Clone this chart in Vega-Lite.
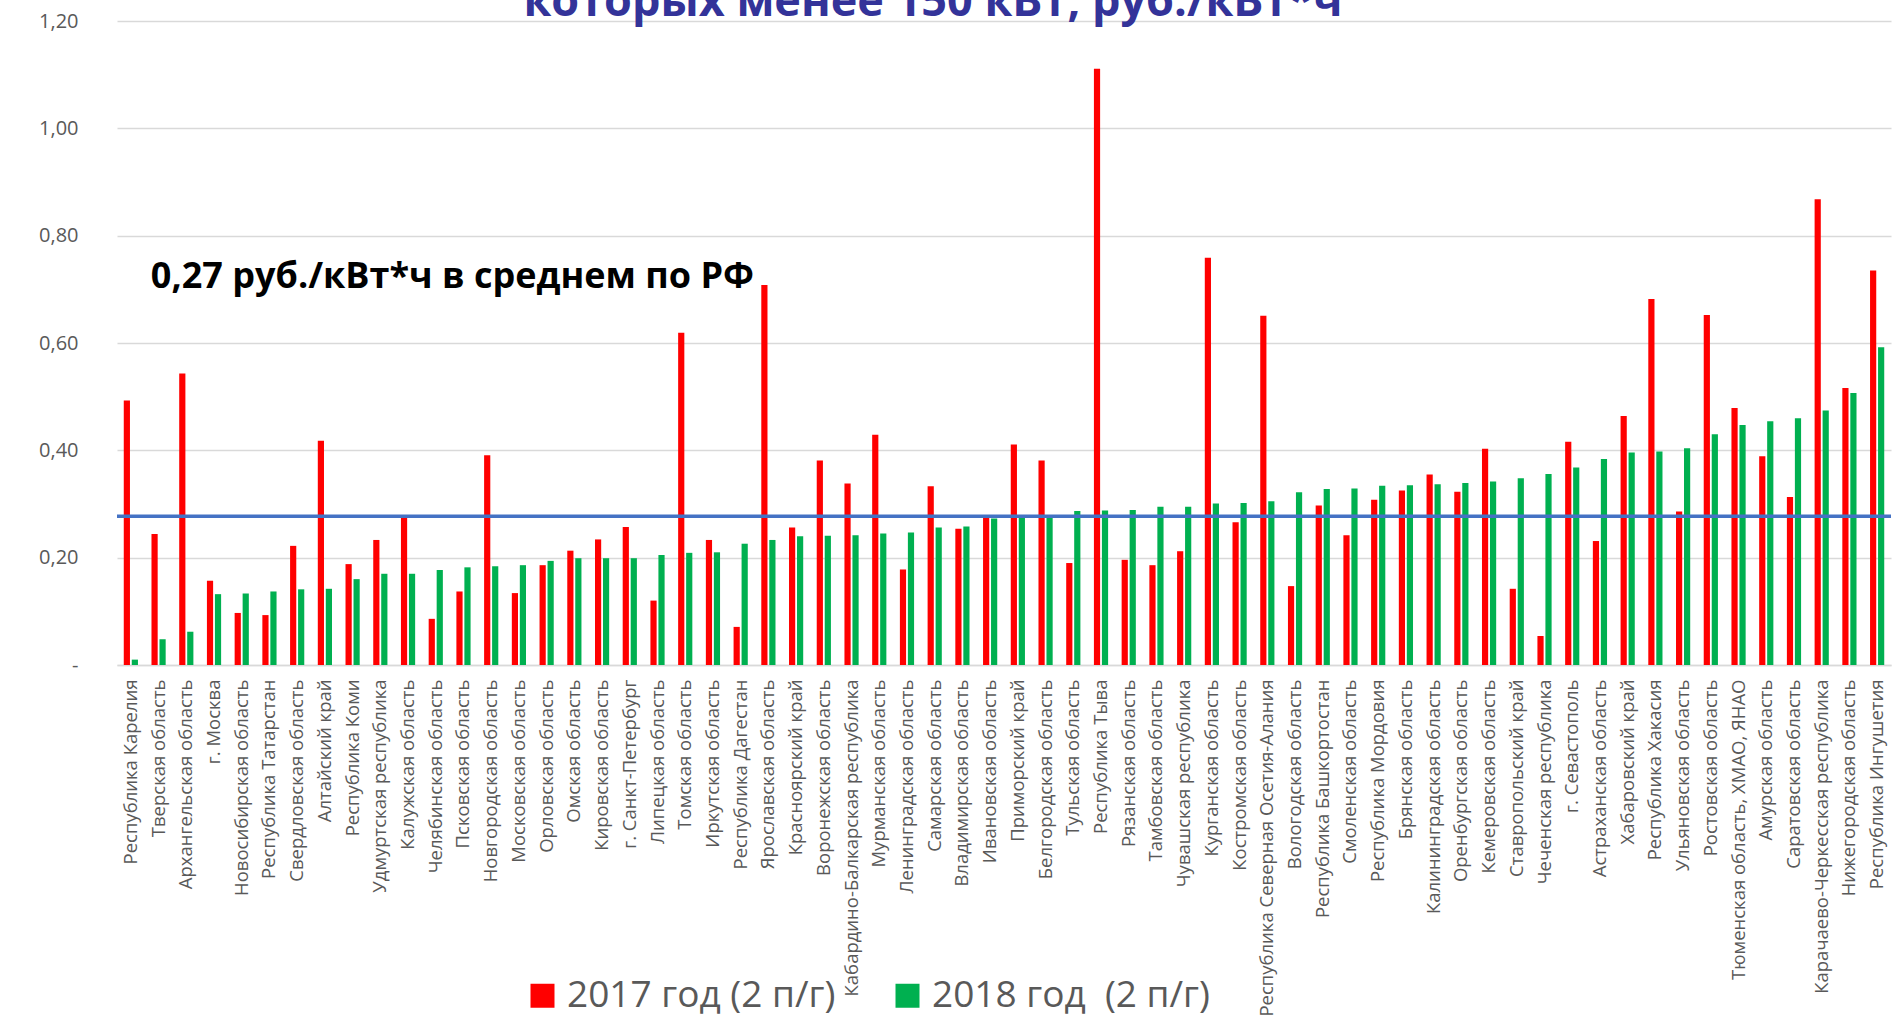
{
  "$schema": "https://vega.github.io/schema/vega-lite/v6.json",
  "autosize": {"type": "none"},
  "width": 1774,
  "height": 644,
  "padding": {"left": 117, "top": 21, "right": 5, "bottom": 352},
  "background": "white",
  "title": {
    "text": "которых менее 150 кВт, руб./кВт*ч",
    "anchor": "middle",
    "frame": "group",
    "dx": -71,
    "dy": 50,
    "baseline": "alphabetic",
    "offset": 0,
    "font": "Open Sans",
    "fontSize": 45,
    "fontWeight": "bold",
    "color": "#333399"
  },
  "data": {
    "values": [
      {"region": "Республика Карелия", "2017 год (2 п/г)": 0.493, "2018 год  (2 п/г)": 0.010},
      {"region": "Тверская область", "2017 год (2 п/г)": 0.244, "2018 год  (2 п/г)": 0.048},
      {"region": "Архангельская область", "2017 год (2 п/г)": 0.543, "2018 год  (2 п/г)": 0.062},
      {"region": "г. Москва", "2017 год (2 п/г)": 0.157, "2018 год  (2 п/г)": 0.132},
      {"region": "Новосибирская область", "2017 год (2 п/г)": 0.097, "2018 год  (2 п/г)": 0.133},
      {"region": "Республика Татарстан", "2017 год (2 п/г)": 0.093, "2018 год  (2 п/г)": 0.137},
      {"region": "Свердловская область", "2017 год (2 п/г)": 0.222, "2018 год  (2 п/г)": 0.141},
      {"region": "Алтайский край", "2017 год (2 п/г)": 0.418, "2018 год  (2 п/г)": 0.142},
      {"region": "Республика Коми", "2017 год (2 п/г)": 0.188, "2018 год  (2 п/г)": 0.160},
      {"region": "Удмуртская республика", "2017 год (2 п/г)": 0.233, "2018 год  (2 п/г)": 0.170},
      {"region": "Калужская область", "2017 год (2 п/г)": 0.274, "2018 год  (2 п/г)": 0.170},
      {"region": "Челябинская область", "2017 год (2 п/г)": 0.086, "2018 год  (2 п/г)": 0.177},
      {"region": "Псковская область", "2017 год (2 п/г)": 0.137, "2018 год  (2 п/г)": 0.182},
      {"region": "Новгородская область", "2017 год (2 п/г)": 0.391, "2018 год  (2 п/г)": 0.184},
      {"region": "Московская область", "2017 год (2 п/г)": 0.134, "2018 год  (2 п/г)": 0.186},
      {"region": "Орловская область", "2017 год (2 п/г)": 0.186, "2018 год  (2 п/г)": 0.194},
      {"region": "Омская область", "2017 год (2 п/г)": 0.213, "2018 год  (2 п/г)": 0.199},
      {"region": "Кировская область", "2017 год (2 п/г)": 0.234, "2018 год  (2 п/г)": 0.199},
      {"region": "г. Санкт-Петербург", "2017 год (2 п/г)": 0.257, "2018 год  (2 п/г)": 0.199},
      {"region": "Липецкая область", "2017 год (2 п/г)": 0.120, "2018 год  (2 п/г)": 0.205},
      {"region": "Томская область", "2017 год (2 п/г)": 0.619, "2018 год  (2 п/г)": 0.209},
      {"region": "Иркутская область", "2017 год (2 п/г)": 0.233, "2018 год  (2 п/г)": 0.210},
      {"region": "Республика Дагестан", "2017 год (2 п/г)": 0.071, "2018 год  (2 п/г)": 0.226},
      {"region": "Ярославская область", "2017 год (2 п/г)": 0.708, "2018 год  (2 п/г)": 0.233},
      {"region": "Красноярский край", "2017 год (2 п/г)": 0.256, "2018 год  (2 п/г)": 0.240},
      {"region": "Воронежская область", "2017 год (2 п/г)": 0.381, "2018 год  (2 п/г)": 0.241},
      {"region": "Кабардино-Балкарская республика", "2017 год (2 п/г)": 0.338, "2018 год  (2 п/г)": 0.242},
      {"region": "Мурманская область", "2017 год (2 п/г)": 0.429, "2018 год  (2 п/г)": 0.245},
      {"region": "Ленинградская область", "2017 год (2 п/г)": 0.178, "2018 год  (2 п/г)": 0.247},
      {"region": "Самарская область", "2017 год (2 п/г)": 0.333, "2018 год  (2 п/г)": 0.256},
      {"region": "Владимирская область", "2017 год (2 п/г)": 0.254, "2018 год  (2 п/г)": 0.258},
      {"region": "Ивановская область", "2017 год (2 п/г)": 0.274, "2018 год  (2 п/г)": 0.273},
      {"region": "Приморский край", "2017 год (2 п/г)": 0.411, "2018 год  (2 п/г)": 0.275},
      {"region": "Белгородская область", "2017 год (2 п/г)": 0.381, "2018 год  (2 п/г)": 0.275},
      {"region": "Тульская область", "2017 год (2 п/г)": 0.190, "2018 год  (2 п/г)": 0.287},
      {"region": "Республика Тыва", "2017 год (2 п/г)": 1.111, "2018 год  (2 п/г)": 0.288},
      {"region": "Рязанская область", "2017 год (2 п/г)": 0.196, "2018 год  (2 п/г)": 0.289},
      {"region": "Тамбовская область", "2017 год (2 п/г)": 0.186, "2018 год  (2 п/г)": 0.295},
      {"region": "Чувашская республика", "2017 год (2 п/г)": 0.212, "2018 год  (2 п/г)": 0.295},
      {"region": "Курганская область", "2017 год (2 п/г)": 0.759, "2018 год  (2 п/г)": 0.301},
      {"region": "Костромская область", "2017 год (2 п/г)": 0.266, "2018 год  (2 п/г)": 0.302},
      {"region": "Республика Северная Осетия-Алания", "2017 год (2 п/г)": 0.651, "2018 год  (2 п/г)": 0.305},
      {"region": "Вологодская область", "2017 год (2 п/г)": 0.147, "2018 год  (2 п/г)": 0.322},
      {"region": "Республика Башкортостан", "2017 год (2 п/г)": 0.297, "2018 год  (2 п/г)": 0.328},
      {"region": "Смоленская область", "2017 год (2 п/г)": 0.242, "2018 год  (2 п/г)": 0.329},
      {"region": "Республика Мордовия", "2017 год (2 п/г)": 0.308, "2018 год  (2 п/г)": 0.334},
      {"region": "Брянская область", "2017 год (2 п/г)": 0.325, "2018 год  (2 п/г)": 0.335},
      {"region": "Калининградская область", "2017 год (2 п/г)": 0.355, "2018 год  (2 п/г)": 0.337},
      {"region": "Оренбургская область", "2017 год (2 п/г)": 0.323, "2018 год  (2 п/г)": 0.339},
      {"region": "Кемеровская область", "2017 год (2 п/г)": 0.403, "2018 год  (2 п/г)": 0.342},
      {"region": "Ставропольский край", "2017 год (2 п/г)": 0.142, "2018 год  (2 п/г)": 0.348},
      {"region": "Чеченская республика", "2017 год (2 п/г)": 0.054, "2018 год  (2 п/г)": 0.356},
      {"region": "г. Севастополь", "2017 год (2 п/г)": 0.416, "2018 год  (2 п/г)": 0.368},
      {"region": "Астраханская область", "2017 год (2 п/г)": 0.231, "2018 год  (2 п/г)": 0.384},
      {"region": "Хабаровский край", "2017 год (2 п/г)": 0.464, "2018 год  (2 п/г)": 0.396},
      {"region": "Республика Хакасия", "2017 год (2 п/г)": 0.682, "2018 год  (2 п/г)": 0.398},
      {"region": "Ульяновская область", "2017 год (2 п/г)": 0.286, "2018 год  (2 п/г)": 0.404},
      {"region": "Ростовская область", "2017 год (2 п/г)": 0.652, "2018 год  (2 п/г)": 0.430},
      {"region": "Тюменская область, ХМАО, ЯНАО", "2017 год (2 п/г)": 0.479, "2018 год  (2 п/г)": 0.447},
      {"region": "Амурская область", "2017 год (2 п/г)": 0.389, "2018 год  (2 п/г)": 0.454},
      {"region": "Саратовская область", "2017 год (2 п/г)": 0.313, "2018 год  (2 п/г)": 0.460},
      {"region": "Карачаево-Черкесская республика", "2017 год (2 п/г)": 0.868, "2018 год  (2 п/г)": 0.474},
      {"region": "Нижегородская область", "2017 год (2 п/г)": 0.516, "2018 год  (2 п/г)": 0.507},
      {"region": "Республика Ингушетия", "2017 год (2 п/г)": 0.735, "2018 год  (2 п/г)": 0.592}
    ]
  },
  "transform": [
    {"fold": ["2017 год (2 п/г)", "2018 год  (2 п/г)"], "as": ["series", "value"]}
  ],
  "layer": [
    {
      "mark": {"type": "bar"},
      "encoding": {
        "x": {
          "field": "region",
          "type": "nominal",
          "sort": null,
          "scale": {"paddingInner": 0.488, "paddingOuter": 0.244},
          "axis": {
            "title": null,
            "labelAngle": -90,
            "labelFont": "Open Sans",
            "labelFontSize": 18.5,
            "labelColor": "#595959",
            "labelPadding": 14,
            "labelLimit": 0,
            "ticks": false,
            "domain": true,
            "domainColor": "#D9D9D9",
            "domainWidth": 1.3
          }
        },
        "xOffset": {
          "field": "series",
          "type": "nominal",
          "scale": {"paddingInner": 0.225, "paddingOuter": 0}
        },
        "y": {
          "field": "value",
          "type": "quantitative",
          "scale": {"domain": [0, 1.2], "nice": false},
          "axis": {
            "title": null,
            "values": [0, 0.2, 0.4, 0.6, 0.8, 1.0, 1.2],
            "labelExpr": "datum.value == 0 ? '-\u00a0\u00a0' : replace(format(datum.value, '.2f'), '.', ',')",
            "labelFont": "Open Sans",
            "labelFontSize": 20,
            "labelColor": "#595959",
            "labelPadding": 39,
            "ticks": false,
            "domain": false,
            "grid": true,
            "gridColor": "#D9D9D9",
            "gridWidth": 1.3
          }
        },
        "color": {
          "field": "series",
          "type": "nominal",
          "scale": {"domain": ["2017 год (2 п/г)", "2018 год  (2 п/г)"], "range": ["#FF0000", "#00B050"]},
          "legend": {
            "title": null,
            "orient": "none",
            "direction": "horizontal",
            "legendX": 407,
            "legendY": 956,
            "symbolType": "square",
            "symbolSize": 576,
            "symbolStrokeWidth": 0,
            "symbolOpacity": 1,
            "labelFont": "Open Sans",
            "labelFontSize": 37,
            "labelColor": "#595959",
            "labelOffset": 6,
            "labelLimit": 0,
            "labelExpr": "replace(datum.label, '  ', '\u00a0\u00a0')",
            "columnPadding": 53
          }
        }
      }
    },
    {
      "data": {"values": [{}]},
      "mark": {"type": "rule", "color": "#4472C4", "strokeWidth": 3.5},
      "encoding": {"y": {"datum": 0.277}}
    },
    {
      "transform": [
        {"filter": "datum.region == 'Республика Карелия' && datum.series == '2017 год (2 п/г)'"}
      ],
      "mark": {
        "type": "text",
        "text": "0,27 руб./кВт*ч в среднем по РФ",
        "align": "left",
        "baseline": "alphabetic",
        "dx": 20,
        "font": "Open Sans",
        "fontSize": 36,
        "fontWeight": "bold",
        "color": "#000000"
      },
      "encoding": {
        "x": {"field": "region", "type": "nominal", "sort": null},
        "y": {"datum": 0.703}
      }
    }
  ],
  "config": {
    "view": {"stroke": null}
  }
}
